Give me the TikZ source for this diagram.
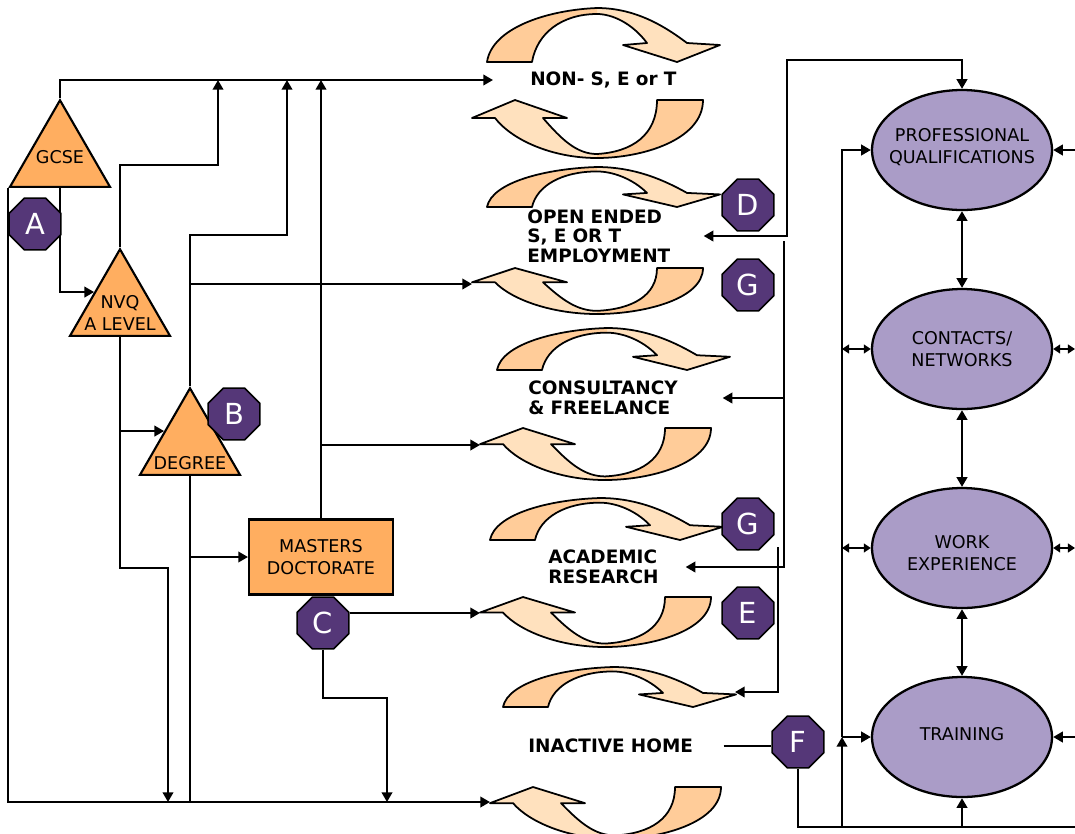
\documentclass[tikz,border=0pt]{standalone}
\usepackage{fontspec}
\setmainfont{DejaVu Sans}
\usetikzlibrary{shapes.geometric, arrows.meta}

\definecolor{qualorange}{RGB}{255,174,96}
\definecolor{octpurple}{RGB}{85,55,120}
\definecolor{skilllilac}{RGB}{170,156,199}
\definecolor{arcdark}{RGB}{255,204,153}
\definecolor{arclight}{RGB}{255,225,190}

% twisted arrows round the destinations
\newcommand{\toparcpath}{(0,54) .. controls (5,20) and (60,2) .. (110,0)
  .. controls (150,0) and (180,20) .. (200,35) -- (233,37) -- (190,54) -- (136,37) -- (160,35)
  .. controls (145,15) and (125,6) .. (110,6) .. controls (75,6) and (50,25) .. (45,54) -- cycle}
\newcommand{\botarcpath}{(0,18) -- (43,0) -- (95,18) -- (71,18)
  .. controls (90,40) and (105,54) .. (125,54) .. controls (160,52) and (185,35) .. (185,0)
  -- (231,0) .. controls (231,40) and (170,58) .. (125,58) .. controls (80,58) and (40,40) .. (23,18) -- cycle}

\newcommand{\toparc}[3]{%
  \begin{scope}[shift={(#1,#2)}, yscale=#3/54]
    \fill[arc_light] \toparcpath;
    \begin{scope}
      \clip (-5,-5) rectangle (110,60);
      \fill[arc_dark] \toparcpath;
    \end{scope}
    \draw[arc_line] \toparcpath;
  \end{scope}}
\newcommand{\botarc}[3]{%
  \begin{scope}[shift={(#1,#2)}, yscale=#3/58]
    \fill[arc_light] \botarcpath;
    \begin{scope}
      \clip (125,-5) rectangle (240,65);
      \fill[arc_dark] \botarcpath;
    \end{scope}
    \draw[arc_line] \botarcpath;
  \end{scope}}

\begin{document}
\begin{tikzpicture}[x=0.02cm, y=-0.02cm]
  \tikzstyle{car_tri}    = [shape = regular polygon, regular polygon sides = 3, draw = black, fill = qualorange, line width = 1.2pt, minimum size = 2.31cm, inner sep = 0pt]
  \tikzstyle{car_box}    = [shape = rectangle, draw = black, fill = qualorange, line width = 1.2pt, minimum width = 2.88cm, minimum height = 1.5cm, align = center, font = \fontsize{10}{12.5}\selectfont]
  \tikzstyle{car_oct}    = [shape = regular polygon, regular polygon sides = 8, draw = black, fill = octpurple, line width = 0.9pt, minimum size = 1.12cm, inner sep = 0pt, text = white, font = \fontsize{16.5}{16.5}\selectfont]
  \tikzstyle{car_skill}  = [shape = ellipse, draw = black, fill = skilllilac, line width = 1.3pt, minimum width = 3.6cm, minimum height = 2.4cm]
  \tikzstyle{car_txt}    = [align = center, inner sep = 0pt, font = \fontsize{10}{12.5}\selectfont]
  \tikzstyle{car_dest}   = [anchor = west, align = left, inner sep = 0pt, font = \fontsize{10.5}{11.2}\selectfont\bfseries]
  \tikzstyle{car_line}   = [line width = 1.2pt]
  \tikzstyle{car_link}   = [line width = 1.2pt, -{Triangle[length = 5.5pt, width = 6pt]}]
  \tikzstyle{car_twoway} = [line width = 1.2pt, {Triangle[length = 5.5pt, width = 6pt]}-{Triangle[length = 5.5pt, width = 6pt]}]
  \tikzstyle{car_both}   = [line width = 1.2pt, {Triangle[length = 4pt, width = 5pt]}-{Triangle[length = 4pt, width = 5pt]}]
  \tikzstyle{arc_dark}   = [fill = arcdark]
  \tikzstyle{arc_light}  = [fill = arclight]
  \tikzstyle{arc_line}   = [draw = black, line width = 1pt, line join = round]

  \useasboundingbox (0,0) rectangle (1075,833);

  \toparc{487}{8}{54}
  \botarc{472}{100}{58}
  \toparc{487}{167}{40}
  \botarc{472}{268}{46}
  \toparc{497}{328}{42}
  \botarc{480}{428}{52}
  \toparc{490}{498}{42}
  \botarc{480}{597}{50}
  \toparc{503}{667}{40}
  \botarc{490}{787}{52}

  \node[car_tri] (gcse)     at ( 60,158) {};
  \node[car_txt] (gcse_t)   at ( 60,157) {GCSE};
  \node[car_tri] (nvq)      at (120,307) {};
  \node[car_txt] (nvq_t)    at (120,313) {NVQ\\A LEVEL};
  \node[car_tri] (degree)   at (190,446) {};
  \node[car_txt] (degree_t) at (190,463) {DEGREE};
  \node[car_box] (masters)  at (321,557) {MASTERS\\DOCTORATE};

  \node[car_skill] (profq)      at (962,150) {};
  \node[car_txt]   (profq_t)    at (962,147) {PROFESSIONAL\\QUALIFICATIONS};
  \node[car_skill] (contacts)   at (962,349) {};
  \node[car_txt]   (contacts_t) at (962,349) {CONTACTS/\\NETWORKS};
  \node[car_skill] (workexp)    at (962,548) {};
  \node[car_txt]   (workexp_t)  at (962,553) {WORK\\EXPERIENCE};
  \node[car_skill] (training)   at (962,737) {};
  \node[car_txt]   (training_t) at (962,734) {TRAINING};

  \node[car_dest, text width = 4.4cm, align = center] (nonset) at (493,80) {NON- S, E or T};
  \node[car_dest, text width = 3.52cm] (openend)  at (527,236) {OPEN ENDED\\S, E OR T\\EMPLOYMENT};
  \node[car_dest, text width = 3.88cm] (consult)  at (528,398) {CONSULTANCY\\\& FREELANCE};
  \node[car_dest, text width = 2.74cm] (academic) at (548,567) {ACADEMIC\\RESEARCH};
  \node[car_dest, text width = 3.9cm]  (inactive) at (528,746) {INACTIVE HOME};

  \coordinate (b2_tip)     at (472,284);
  \coordinate (b3_tip)     at (480,445);
  \coordinate (b4_tip)     at (480,613);
  \coordinate (b5_tip)     at (490,802);
  \coordinate (t5_tip)     at (735,692);
  \coordinate (nvq_up)     at (218,165);
  \coordinate (deg_up)     at (287,235);
  \coordinate (nvq_down)   at (168,568);
  \coordinate (c_down)     at (387,698);
  \coordinate (d_top)      at (787,60);
  \coordinate (g_bus)      at (784,241);
  \coordinate (e_bus)      at (778,547);
  \coordinate (skill_bus)  at (842,827);
  \coordinate (right_edge) at (1075,827);

  % routes on the left
  \draw[car_link] (gcse.north) |- (nonset);
  \draw[car_link] (nvq.north) |- (nvq_up) -- (nvq_up |- nonset.west);
  \draw[car_link] (degree.north) |- (deg_up) -- (deg_up |- nonset.west);
  \draw[car_link] (masters.north) -- (masters.north |- nonset.west);
  \draw[car_link] (degree.north |- b2_tip) -- (b2_tip);
  \draw[car_link] (masters.north |- b3_tip) -- (b3_tip);
  \draw[car_link] (gcse.corner 2) |- (b5_tip);
  \draw[car_link] (gcse.south) |- (nvq.side 1);
  \draw[car_link] (nvq.south |- degree.side 1) -- (degree.side 1);
  \draw[car_link] (nvq.south) |- (nvq_down) -- (nvq_down |- b5_tip);
  \draw[car_line] (degree.south) -- (degree.south |- b5_tip);
  \draw[car_link] (degree.south |- masters.west) -- (masters.west);

  % routes on the right
  \draw[car_twoway] (openend) -| (d_top) -| (profq);
  \draw[car_link] (g_bus) |- (consult);
  \draw[car_link] (g_bus) |- (academic);
  \draw[car_link] (e_bus) |- (t5_tip);

  \draw[car_link] (skill_bus) -- (skill_bus |- training);
  \draw[car_link] (skill_bus |- training) -- (training);
  \draw[car_link] (skill_bus |- training) |- (profq);
  \draw[car_both] (skill_bus |- contacts) -- (contacts);
  \draw[car_both] (skill_bus |- workexp) -- (workexp);
  \draw[car_link] (training.south |- skill_bus) -- (training);
  \draw[car_twoway] (profq) -- (contacts);
  \draw[car_twoway] (contacts) -- (workexp);
  \draw[car_twoway] (workexp) -- (training);
  \draw[car_link] (profq.east -| right_edge) -- (profq);
  \draw[car_both] (contacts.east -| right_edge) -- (contacts);
  \draw[car_both] (workexp.east -| right_edge) -- (workexp);
  \draw[car_link] (training.east -| right_edge) -- (training);

  \node[car_oct] (oct_a)  at ( 35,224) {A};
  \node[car_oct] (oct_b)  at (234,414) {B};
  \node[car_oct] (oct_c)  at (323,623) {C};
  \node[car_oct] (oct_d)  at (748,205) {D};
  \node[car_oct] (oct_g1) at (748,285) {G};
  \node[car_oct] (oct_g2) at (748,524) {G};
  \node[car_oct] (oct_e)  at (748,613) {E};
  \node[car_oct] (oct_f)  at (798,742) {F};

  \draw[car_link] (oct_c.east |- b4_tip) -- (b4_tip);
  \draw[car_link] (oct_c.south) |- (c_down) -- (c_down |- b5_tip);
  \draw[car_line] (inactive.east) -- (inactive.east -| oct_f.west);
  \draw[car_line] (oct_f.south) |- (right_edge);
\end{tikzpicture}
\end{document}
